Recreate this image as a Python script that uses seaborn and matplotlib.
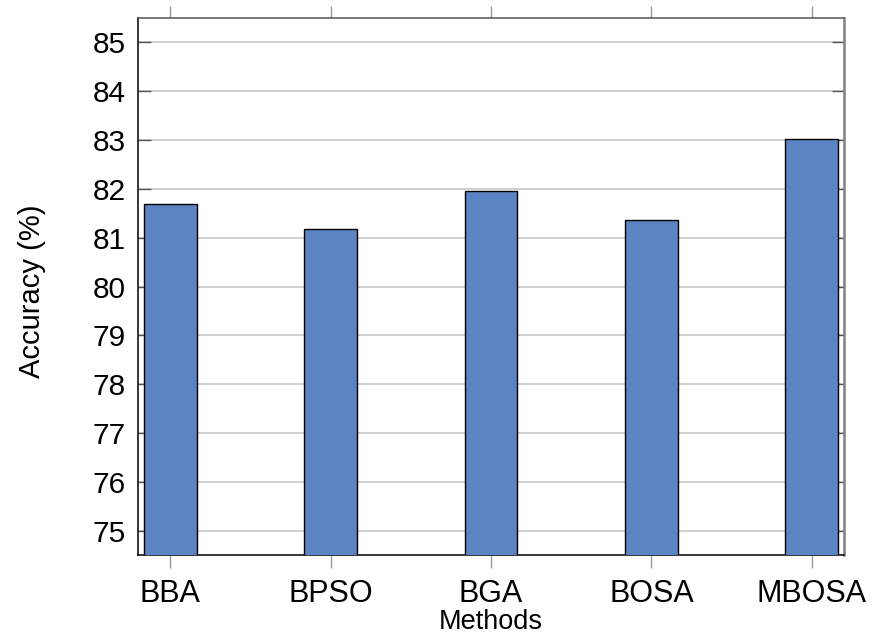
import matplotlib
matplotlib.use("Agg")
import matplotlib.pyplot as plt
import seaborn as sns
import pandas as pd

methods = ["BBA", "BPSO", "BGA", "BOSA", "MBOSA"]
accuracy = [81.69, 81.18, 81.96, 81.36, 83.02]
y_ticks = [75, 76, 77, 78, 79, 80, 81, 82, 83, 84, 85]

sns.set_theme(style="white")
plt.rcParams["font.family"] = ["Liberation Sans", "DejaVu Sans"]

df = pd.DataFrame({"Methods": methods, "Accuracy": accuracy})

fig = plt.figure(figsize=(8.72, 6.38), dpi=100)
ax = fig.add_axes([138 / 872, 1 - 555 / 638, (844 - 138) / 872, (555 - 18) / 638])

sns.barplot(data=df, x="Methods", y="Accuracy", ax=ax, width=0.33,
            color="#5b84c4", saturation=1, edgecolor="black", linewidth=1.0,
            zorder=3)

ax.set_xlim(-0.2, 4.2)
ax.set_ylim(74.5, 85.5)
ax.set_yticks(y_ticks)
ax.yaxis.grid(True, color="#c4c4c4", linewidth=1.1, zorder=0)
ax.set_axisbelow(True)

# spines
ax.spines["left"].set_color("black")
ax.spines["bottom"].set_color("black")
ax.spines["top"].set_color("#555555")
ax.spines["right"].set_color("#808080")
ax.spines["right"].set_linewidth(1.8)
for s in ["left", "bottom", "top"]:
    ax.spines[s].set_linewidth(1.1)

ax.tick_params(axis="y", which="major", direction="in", length=9, width=1,
               color="#555555", left=True, right=True, labelsize=21.5, pad=9,
               labelcolor="black")
ax.tick_params(axis="x", which="major", direction="out", length=9, width=1,
               color="#999999", bottom=True, top=True, labelsize=22, pad=8,
               labelcolor="black")

ax.set_xlabel("Methods", fontsize=19.5, color="black")
ax.set_ylabel("Accuracy (%)", fontsize=21, color="black")
ax.xaxis.set_label_coords(0.5, -0.100)
ax.yaxis.set_label_coords(-0.130, 0.491)

fig.savefig("out.png", dpi=100, facecolor="white")
